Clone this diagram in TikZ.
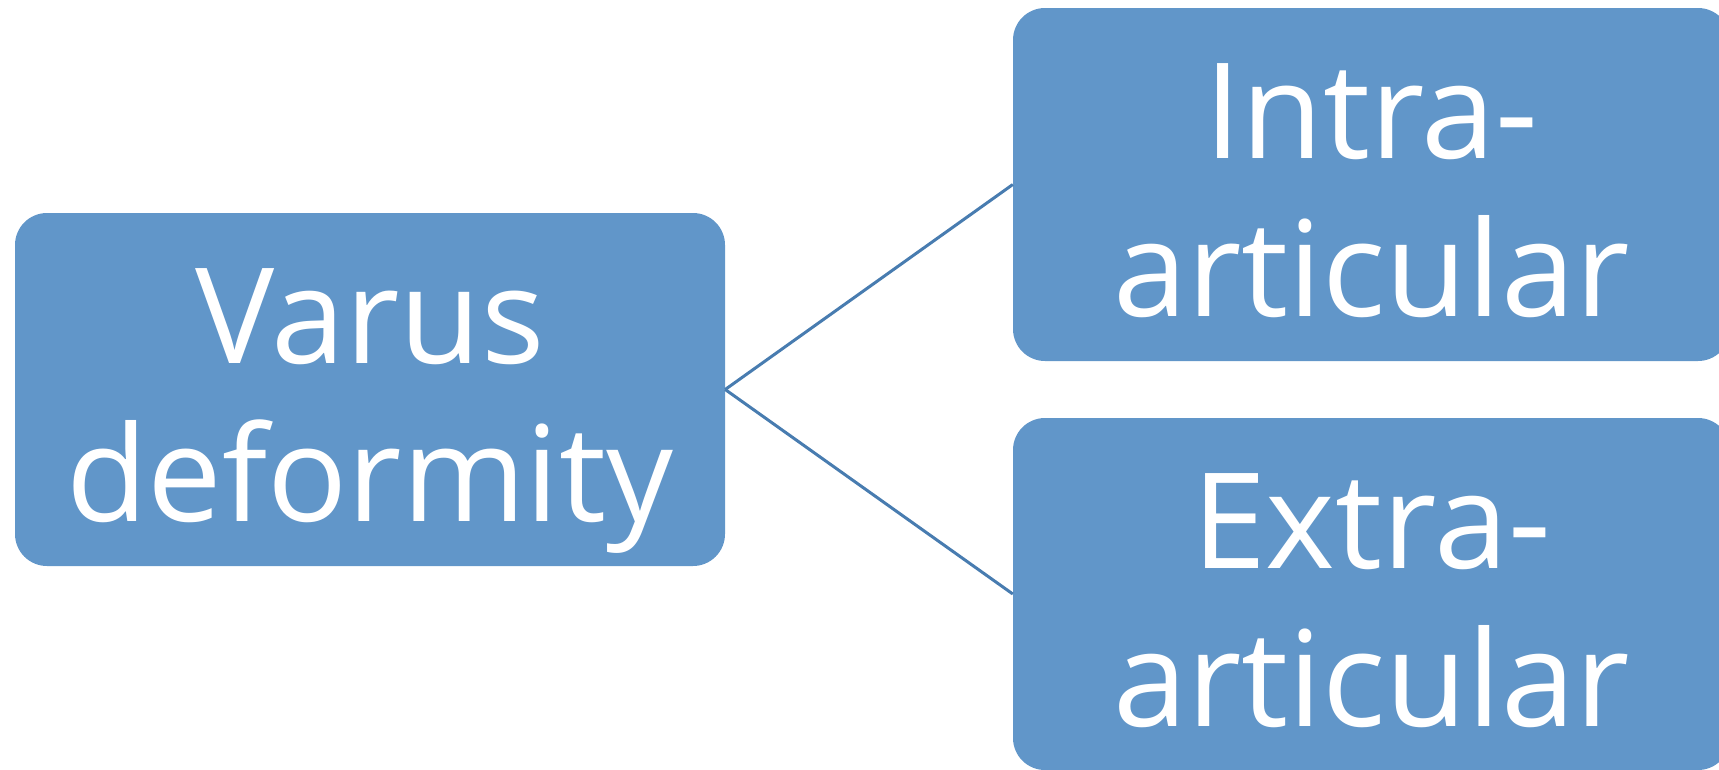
\documentclass[tikz,border=0pt]{standalone}
\usepackage{fontspec}
\setmainfont{Open Sans}
\usepackage{xcolor}
\definecolor{boxblue}{RGB}{97,150,201}
\definecolor{linkblue}{RGB}{72,124,176}
\newcommand{\capstrut}[1]{\rule{0pt}{#1}}

\begin{document}
\begin{tikzpicture}[x=1pt, y=-1pt,
    every node/.style={rectangle, rounded corners=32pt, fill=boxblue, text=white, align=center,
        inner sep=0pt, font=\fontsize{133}{158}\selectfont},
    link/.style={draw=linkblue, line width=3pt}]
    \useasboundingbox (0,0) rectangle (1719,769);
    \clip (0,0) rectangle (1719,769);
    \node[minimum width=710pt, minimum height=353pt] (varus) at (370,389.5) {\capstrut{137pt}Varus\\deformity};
    \node[minimum width=717pt, minimum height=353pt] (intra) at (1371.5,184.5) {\capstrut{108pt}Intra-\\articular};
    \node[minimum width=717pt, minimum height=352pt] (extra) at (1371.5,594) {\capstrut{108pt}Extra-\\articular};
    \draw[link] (varus.east) -- (intra.west);
    \draw[link] (varus.east) -- (extra.west);
\end{tikzpicture}
\end{document}
